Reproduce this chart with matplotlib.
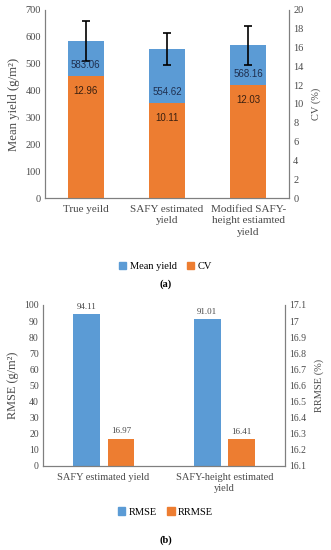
import matplotlib.pyplot as plt
import numpy as np

# data for panel (a)
cats_a = ['True yeild', 'SAFY estimated\nyield', 'Modified SAFY-\nheight estiamted\nyield']
mean_yield = [583.06, 554.62, 568.16]
yield_err = [74, 58, 72]
cv = [12.96, 10.11, 12.03]

# data for panel (b)
cats_b = ['SAFY estimated yield', 'SAFY-height estimated\nyield']
rmse = [94.11, 91.01]
rrmse = [16.97, 16.41]

blue = '#5B9BD5'
orange = '#ED7D31'
serif = 'Liberation Serif'
spine_c = '#7F7F7F'
txt = '#4A4A4A'

fig = plt.figure(figsize=(3.31, 5.5), dpi=100)

# ---------- panel (a)
ax1 = fig.add_axes([0.136, 0.64, 0.737, 0.342])
ax2 = ax1.twinx()
x = np.arange(len(cats_a))
ax1.bar(x, mean_yield, width=0.44, color=blue, yerr=yield_err,
        error_kw=dict(ecolor='black', elinewidth=1.2, capsize=3, capthick=1.2), zorder=2)
ax2.bar(x, cv, width=0.44, color=orange, zorder=2)
ax1.set_ylim(0, 700)
ax2.set_ylim(0, 20)
ax1.set_xlim(-0.5, 2.5)
ax1.set_yticks(range(0, 701, 100))
ax2.set_yticks(range(0, 21, 2))
ax1.set_xticks(x)
ax1.set_xticklabels(cats_a, family=serif, fontsize=8, color=txt, linespacing=1.35)
for lbl in ax1.get_yticklabels() + ax2.get_yticklabels():
    lbl.set_family(serif)
    lbl.set_fontsize(7.5)
    lbl.set_color(txt)
ax1.set_ylabel('Mean yield (g/m²)', family=serif, fontsize=9.2, color=txt, labelpad=4)
ax2.set_ylabel('CV (%)', family=serif, fontsize=7.5, color=txt, labelpad=6)
for a in (ax1, ax2):
    a.tick_params(length=0, pad=3)
    a.spines['top'].set_visible(False)
    for s in ('left', 'right', 'bottom'):
        a.spines[s].set_color(spine_c)
ax1.tick_params(axis='x', pad=5)
for i in range(len(x)):
    ax2.text(x[i], cv[i] + 1.2, f'{mean_yield[i]:.2f}', ha='center', va='center',
             family='Liberation Sans', fontsize=7, color='#1F2F4F', zorder=5)
    ax2.text(x[i], cv[i] - 1.6, f'{cv[i]:.2f}', ha='center', va='center',
             family='Liberation Sans', fontsize=7, color='#3A2010', zorder=5)
h1 = plt.Rectangle((0, 0), 1, 1, color=blue)
h2 = plt.Rectangle((0, 0), 1, 1, color=orange)
fig.legend([h1, h2], ['Mean yield', 'CV'], loc='center', bbox_to_anchor=(0.5, 0.516),
           ncol=2, frameon=False, prop=dict(family=serif, size=7.5),
           handlelength=0.7, handleheight=0.7, handletextpad=0.3, columnspacing=1.0)
fig.text(0.5, 0.483, '(a)', ha='center', va='center', family=serif, fontsize=7.5, weight='bold')

# ---------- panel (b)
ax3 = fig.add_axes([0.13, 0.153, 0.731, 0.2925])
ax4 = ax3.twinx()
xb = np.arange(len(cats_b))
w = 0.22
ax3.bar(xb - 0.143, rmse, width=w, color=blue, zorder=2)
ax3.bar(xb + 0.143, rrmse, width=w, color=orange, zorder=2)
for i in range(len(xb)):
    ax3.text(xb[i] - 0.143, rmse[i] + 2, f'{rmse[i]:.2f}', ha='center', va='bottom',
             family=serif, fontsize=6.5, color=txt)
    ax3.text(xb[i] + 0.143, rrmse[i] + 2, f'{rrmse[i]:.2f}', ha='center', va='bottom',
             family=serif, fontsize=6.5, color=txt)
ax3.set_xlim(-0.5, 1.5)
ax3.set_ylim(0, 100)
ax3.set_yticks(range(0, 101, 10))
ax4.set_ylim(16.1, 17.1)
ax4.set_yticks(np.round(np.arange(16.1, 17.11, 0.1), 1))
ax4.set_yticklabels(['16.1', '16.2', '16.3', '16.4', '16.5', '16.6', '16.7', '16.8', '16.9', '17', '17.1'])
ax3.set_xticks(xb)
ax3.set_xticklabels(cats_b, family=serif, fontsize=7.5, color=txt, linespacing=1.35)
for lbl in ax3.get_yticklabels() + ax4.get_yticklabels():
    lbl.set_family(serif)
    lbl.set_fontsize(7)
    lbl.set_color(txt)
ax3.set_ylabel('RMSE (g/m²)', family=serif, fontsize=8.8, color=txt, labelpad=4)
ax4.set_ylabel('RRMSE (%)', family=serif, fontsize=7.5, color=txt, labelpad=6)
for a in (ax3, ax4):
    a.tick_params(length=0, pad=3)
    a.spines['top'].set_visible(False)
    for s in ('left', 'right', 'bottom'):
        a.spines[s].set_color(spine_c)
ax3.tick_params(axis='x', pad=5)
fig.legend([h1, h2], ['RMSE', 'RRMSE'], loc='center', bbox_to_anchor=(0.5, 0.069),
           ncol=2, frameon=False, prop=dict(family=serif, size=7.5),
           handlelength=0.7, handleheight=0.7, handletextpad=0.3, columnspacing=1.0)
fig.text(0.5, 0.018, '(b)', ha='center', va='center', family=serif, fontsize=7.5, weight='bold')

fig.savefig('out.png', dpi=100)
